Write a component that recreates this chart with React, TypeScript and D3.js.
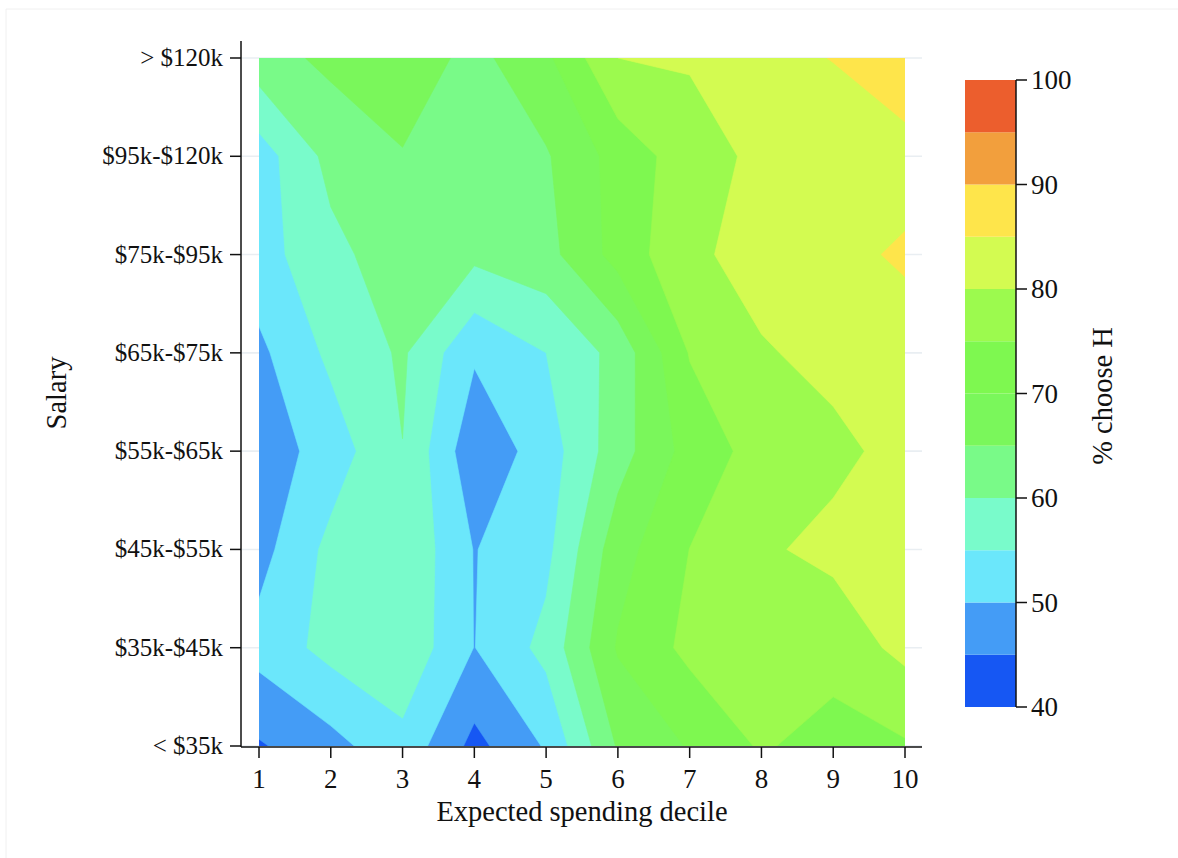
import React from 'react';
import * as d3 from 'd3';

// Expected spending decile (x) and salary bands (y, bottom to top)
const deciles = [1, 2, 3, 4, 5, 6, 7, 8, 9, 10];
const salaryLabels = ['< $35k', '$35k-$45k', '$45k-$55k', '$55k-$65k', '$65k-$75k', '$75k-$95k', '$95k-$120k', '> $120k'];

// % choose H, one array per salary band (deciles 1..10)
const salLt35 = [44.5, 48.3, 53.5, 43.5, 50.5, 65.5, 70.4, 75.6, 72.8, 74.45];
const sal35to45 = [51.8, 56.6, 58.8, 49.9, 56.5, 70.5, 76.3, 77.5, 77.2, 81.3];
const sal45to55 = [48.2, 56.4, 59.3, 49.8, 53.6, 67.9, 75.05, 79.4, 81.1, 82.0];
const sal55to65 = [47.0, 52.3, 59.9, 46.3, 52.4, 62.8, 71.9, 77.0, 79.0, 81.3];
const sal65to75 = [48.9, 56.1, 60.7, 50.7, 55.0, 61.7, 75.3, 79.6, 81.2, 83.3];
const sal75to95 = [53.0, 58.5, 63.0, 61.2, 63.3, 71.8, 79.1, 81.7, 84.0, 85.5];
const sal95to120 = [52.5, 61.6, 64.7, 62.0, 64.5, 71.9, 77.6, 81.2, 83.0, 83.4];
const salGt120 = [63.0, 66.1, 68.0, 63.5, 69.0, 80.0, 80.5, 84.0, 85.1, 88.0];

const gridRows = [salLt35, sal35to45, sal45to55, sal55to65, sal65to75, sal75to95, sal95to120, salGt120];

const levels = [40, 45, 50, 55, 60, 65, 70, 75, 80, 85, 90, 95, 100];
const bandColors = [
  '#1657F3', '#449CF6', '#6BE7FB', '#79FBCB', '#79FA88', '#7AF75B',
  '#7EF850', '#9CFA4E', '#D3FB51', '#FEE54B', '#F29F3D', '#EC5E2D',
];
const colorTicks = [40, 50, 60, 70, 80, 90, 100];

const FONT = '"Liberation Serif", "DejaVu Serif", serif';

export default function App() {
  const W = 1178;
  const H = 858;
  const left = 259, right = 905, top = 58, bottom = 746;
  const x = d3.scaleLinear().domain([1, 10]).range([left, right]);
  const yi = d3.scaleLinear().domain([0, salaryLabels.length - 1]).range([bottom, top]);

  const nx = deciles.length;
  const ny = salaryLabels.length;
  const values = gridRows.flat();
  const contours = d3.contours().size([nx, ny]).thresholds(levels.slice(0, -1))(values);
  const proj = d3.geoTransform({
    point(px: number, py: number) {
      // @ts-ignore
      this.stream.point(x(px + 0.5), yi(py - 0.5));
    },
  });
  const path = d3.geoPath(proj);

  const cTop = 80, cBot = 707, cLeft = 965, cRight = 1016;
  const c = d3.scaleLinear().domain([40, 100]).range([cBot, cTop]);

  const axisLeft = 241;
  const axisY = 747;

  return (
    <svg width={W} height={H} style={{ position: 'absolute', left: 0, top: 0, background: '#fff' }} fontFamily={FONT}>
      <rect x={0} y={0} width={W} height={H} fill="#fff" />
      <path d={`M6,${H} V9 H${W}`} fill="none" stroke="#f0f0f0" strokeWidth={1} />
      <defs>
        <clipPath id="plotclip">
          <rect x={left} y={top} width={right - left} height={bottom - top} />
        </clipPath>
      </defs>
      {/* gridlines */}
      {salaryLabels.map((s, i) => (
        <line key={s} x1={axisLeft} x2={922} y1={yi(i)} y2={yi(i)} stroke="#E9EEF2" strokeWidth={1.6} />
      ))}
      {/* contour fills */}
      <g clipPath="url(#plotclip)">
        {contours.map((ct, k) => (
          <path key={k} d={path(ct as any) || ''} fill={bandColors[k]} stroke={bandColors[k]} strokeWidth={0.6} />
        ))}
      </g>
      {/* y axis */}
      <line x1={axisLeft} x2={axisLeft} y1={41} y2={axisY} stroke="#111" strokeWidth={1.5} />
      {salaryLabels.map((s, i) => (
        <g key={s}>
          <line x1={axisLeft - 11} x2={axisLeft} y1={yi(i)} y2={yi(i)} stroke="#111" strokeWidth={1.5} />
          <text x={223} y={yi(i) + 8} textAnchor="end" fontSize={25} fill="#111">{s}</text>
        </g>
      ))}
      <text transform={`translate(66,393) rotate(-90)`} textAnchor="middle" fontSize={28.5} fill="#111">Salary</text>
      {/* x axis */}
      <line x1={axisLeft} x2={922} y1={axisY} y2={axisY} stroke="#111" strokeWidth={1.5} />
      {deciles.map((d) => (
        <g key={d}>
          <line x1={x(d)} x2={x(d)} y1={axisY} y2={axisY + 11} stroke="#111" strokeWidth={1.5} />
          <text x={x(d)} y={788} textAnchor="middle" fontSize={27} fill="#111">{d}</text>
        </g>
      ))}
      <text x={582} y={821} textAnchor="middle" fontSize={28.5} fill="#111">Expected spending decile</text>
      {/* colorbar */}
      {bandColors.map((col, k) => (
        <rect key={col} x={cLeft} y={c(levels[k + 1])} width={cRight - cLeft} height={c(levels[k]) - c(levels[k + 1])} fill={col} />
      ))}
      <line x1={cRight} x2={cRight} y1={cTop} y2={cBot} stroke="#111" strokeWidth={1.5} />
      {colorTicks.map((t) => (
        <g key={t}>
          <line x1={cRight} x2={cRight + 11} y1={c(t)} y2={c(t)} stroke="#111" strokeWidth={1.5} />
          <text x={1031} y={c(t) + 9} fontSize={27} fill="#111">{t}</text>
        </g>
      ))}
      <text transform={`translate(1112,396) rotate(-90)`} textAnchor="middle" fontSize={28.5} fill="#111">% choose H</text>
    </svg>
  );
}
